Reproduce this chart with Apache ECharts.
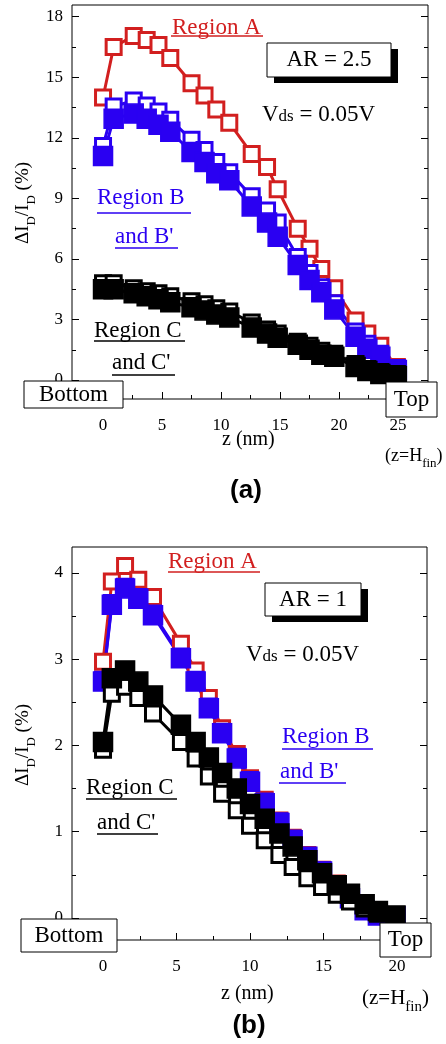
<!DOCTYPE html>
<html><head><meta charset="utf-8">
<script src="https://cdn.jsdelivr.net/npm/echarts@6/dist/echarts.min.js"></script>
<style>html,body{margin:0;padding:0;background:#fff}#c{width:446px;height:1044px}</style>
</head><body><div id="c"></div>
<script>
// ---------- Panel (a): AR = 2.5 ----------
const zA = [0, 0.9, 2.6, 3.7, 4.7, 5.7, 7.5, 8.6, 9.6, 10.7, 12.6, 13.9, 14.8, 16.5, 17.5, 18.5, 19.6, 21.4, 22.4, 23.5, 24.9];
const a_regionA  = [14.0, 16.5, 17.05, 16.85, 16.6, 15.95, 14.7, 14.1, 13.4, 12.75, 11.2, 10.55, 9.45, 7.5, 6.5, 5.5, 4.55, 2.95, 2.3, 1.7, 0.65];
const a_regionB  = [11.6, 13.55, 13.85, 13.6, 13.3, 12.9, 11.9, 11.4, 10.8, 10.3, 9.1, 8.4, 7.8, 6.1, 5.3, 4.6, 3.8, 2.4, 1.8, 1.3, 0.6];
const a_regionBp = [11.1, 12.95, 13.2, 12.95, 12.65, 12.3, 11.3, 10.8, 10.25, 9.9, 8.6, 7.8, 7.1, 5.7, 4.95, 4.35, 3.5, 2.15, 1.55, 1.15, 0.5];
const a_regionC  = [4.8, 4.8, 4.55, 4.4, 4.3, 4.15, 3.9, 3.75, 3.55, 3.4, 2.85, 2.5, 2.3, 1.9, 1.7, 1.45, 1.3, 0.8, 0.55, 0.4, 0.3];
const a_regionCp = [4.5, 4.5, 4.3, 4.15, 4.0, 3.85, 3.6, 3.45, 3.25, 3.1, 2.6, 2.3, 2.1, 1.75, 1.5, 1.25, 1.15, 0.65, 0.45, 0.3, 0.2];
const a_xTicks = [0, 5, 10, 15, 20, 25];
const a_xMinor = [2.5, 7.5, 12.5, 17.5, 22.5];
const a_yTicks = [0, 3, 6, 9, 12, 15, 18];
const a_yMinor = [1.5, 4.5, 7.5, 10.5, 13.5, 16.5];

// ---------- Panel (b): AR = 1 ----------
const zB = [0, 0.6, 1.5, 2.4, 3.4, 5.3, 6.3, 7.2, 8.1, 9.1, 10.0, 11.0, 12.0, 12.9, 13.9, 14.9, 15.9, 16.8, 17.8, 18.7, 19.9];
const b_regionA  = [2.97, 3.9, 4.08, 3.92, 3.72, 3.18, 2.87, 2.55, 2.2, 1.9, 1.62, 1.37, 1.13, 0.93, 0.73, 0.56, 0.4, 0.25, 0.11, 0.05, 0.02];
const b_regionB  = [2.76, 3.65, 3.84, 3.72, 3.53, 3.03, 2.76, 2.45, 2.16, 1.87, 1.6, 1.35, 1.12, 0.92, 0.72, 0.55, 0.39, 0.24, 0.1, 0.04, 0.02];
const b_regionBp = [2.74, 3.63, 3.82, 3.7, 3.51, 3.01, 2.74, 2.43, 2.14, 1.85, 1.58, 1.33, 1.1, 0.9, 0.71, 0.54, 0.38, 0.23, 0.09, 0.03, 0.02];
const b_regionC  = [1.95, 2.6, 2.68, 2.55, 2.37, 2.04, 1.85, 1.64, 1.44, 1.25, 1.07, 0.9, 0.73, 0.59, 0.46, 0.36, 0.27, 0.19, 0.11, 0.05, 0.02];
const b_regionCp = [2.04, 2.78, 2.87, 2.74, 2.58, 2.24, 2.04, 1.86, 1.68, 1.5, 1.32, 1.15, 0.98, 0.83, 0.67, 0.52, 0.38, 0.28, 0.16, 0.08, 0.03];
const b_xTicks = [0, 5, 10, 15, 20];
const b_xMinor = [2.5, 7.5, 12.5, 17.5];
const b_yTicks = [0, 1, 2, 3, 4];
const b_yMinor = [0.5, 1.5, 2.5, 3.5];

const RED = '#d21f1f', BLUE = '#2a00f2', BLACK = '#000';
const SERIF = 'Liberation Serif';

const chart = echarts.init(document.getElementById('c'), null, {renderer: 'canvas'});

function xAxis(grid, min, max, ticks, showLabel, len) {
  return {type: 'value', gridIndex: grid, min, max, position: 'bottom',
    axisLine: {show: false, onZero: false}, splitLine: {show: false},
    axisTick: {show: true, inside: true, length: len, customValues: ticks, lineStyle: {color: '#000', width: 1}},
    axisLabel: {show: showLabel, customValues: ticks, margin: 18, fontFamily: SERIF, fontSize: 17, color: '#000'}};
}
function yAxis(grid, min, max, ticks, showLabel, len, pos) {
  return {type: 'value', gridIndex: grid, min, max, position: pos,
    axisLine: {show: false, onZero: false}, splitLine: {show: false},
    axisTick: {show: true, inside: true, length: len, customValues: ticks, lineStyle: {color: '#000', width: 1}},
    axisLabel: {show: showLabel, customValues: ticks, margin: 9, fontFamily: SERIF, fontSize: 17, color: '#000'}};
}
function ser(xs, ys, color, filled, xi, yi) {
  return {type: 'line', xAxisIndex: xi, yAxisIndex: yi, data: xs.map((x, i) => [x, ys[i]]),
    symbol: 'rect', symbolSize: filled ? 19 : 15, showAllSymbol: true, animation: false, silent: true,
    lineStyle: {color, width: 3}, emphasis: {disabled: true},
    itemStyle: {color: filled ? color : '#fff', borderColor: color, borderWidth: filled ? 1.5 : 3, opacity: 1}};
}

const aX = [-2.63, 27.54], aY = [-0.94, 18.58];
const bX = [-2.11, 22.04], bY = [-0.255, 4.30];

function txt(x, y, text, size, color, extra) {
  return Object.assign({type: 'text', x, y, z: 100, style: {text, fontFamily: SERIF, fontSize: size, fill: color || '#000', align: 'left', verticalAlign: 'middle'}}, extra || {});
}
function uline(x1, x2, y, color) {
  return {type: 'line', z: 100, shape: {x1, y1: y, x2, y2: y}, style: {stroke: color, lineWidth: 1.5}};
}
function box(x, y, w, h, label, size) {
  return [
    {type: 'rect', z: 100, shape: {x, y, width: w, height: h}, style: {fill: '#fff', stroke: '#000', lineWidth: 1}},
    {type: 'text', z: 101, x: x + w / 2, y: y + h / 2, style: {text: label, fontFamily: SERIF, fontSize: size, fill: '#000', align: 'center', verticalAlign: 'middle'}}
  ];
}
function shadowBox(x, y, w, h, label) {
  return [
    {type: 'rect', z: 99, shape: {x: x + 7, y: y + 6, width: w, height: h}, style: {fill: '#000'}},
    ...box(x, y, w, h, label, 23)
  ];
}
function yTitle(x, y) {
  return {type: 'text', x, y, rotation: Math.PI / 2, z: 100, style: {
    text: '{m|ΔI}{s|D}{m|/I}{s|D}{m| (%)}', align: 'center', verticalAlign: 'middle', fill: '#000',
    rich: {m: {fontFamily: SERIF, fontSize: 19, lineHeight: 22, verticalAlign: 'top'},
           s: {fontFamily: SERIF, fontSize: 13, lineHeight: 13, padding: [11, 0, 0, 0], verticalAlign: 'top'}}}};
}
function vds(x, y) {
  return {type: 'text', x, y, z: 100, style: {text: '{v|V}{d|ds}{v| = 0.05V}', align: 'left', verticalAlign: 'middle', fill: '#000',
    rich: {v: {fontFamily: SERIF, fontSize: 23, verticalAlign: 'bottom', lineHeight: 26}, d: {fontFamily: SERIF, fontSize: 17, verticalAlign: 'bottom', lineHeight: 22, padding: [0, 0, 1, 0]}}}};
}
function hfin(x, y, m, s) {
  return {type: 'text', x, y, z: 100, style: {text: '{m|(z=H}{s|fin}{m|)}', align: 'left', verticalAlign: 'middle', fill: '#000',
    rich: {m: {fontFamily: SERIF, fontSize: m, lineHeight: m + 3, verticalAlign: 'top'}, s: {fontFamily: SERIF, fontSize: s, lineHeight: s, padding: [Math.round(m * 0.55), 0, 0, 0], verticalAlign: 'top'}}}};
}

const graphics = [
  // panel a
  yTitle(25, 203),
  txt(172, 28, 'Region A', 23, RED), uline(171, 263, 36, RED),
  ...shadowBox(267, 43, 124, 34, 'AR = 2.5'),
  vds(262, 113),
  txt(97, 198, 'Region B', 23, BLUE), uline(97, 191, 213, BLUE),
  txt(115, 237, "and B'", 23, BLUE), uline(115, 178, 248, BLUE),
  txt(94, 331, 'Region C', 23, BLACK), uline(94, 185, 341, BLACK),
  txt(112, 363, "and C'", 23, BLACK), uline(112, 175, 375, BLACK),
  ...box(24, 381, 99, 27, 'Bottom', 23),
  ...box(386, 382, 51, 35, 'Top', 23),
  txt(222, 440, 'z (nm)', 20, BLACK),
  hfin(385, 458, 18, 13),
  {type: 'text', x: 246, y: 491, z: 100, style: {text: '(a)', fontFamily: 'Liberation Sans', fontWeight: 'bold', fontSize: 26, fill: '#000', align: 'center', verticalAlign: 'middle'}},
  // panel b
  yTitle(25, 745),
  txt(168, 562, 'Region A', 23, RED), uline(168, 260, 572, RED),
  ...shadowBox(265, 583, 96, 33, 'AR = 1'),
  vds(246, 653),
  txt(282, 737, 'Region B', 23, BLUE), uline(282, 373, 749, BLUE),
  txt(280, 772, "and B'", 23, BLUE), uline(279, 346, 783, BLUE),
  txt(86, 788, 'Region C', 23, BLACK), uline(86, 177, 799, BLACK),
  txt(97, 823, "and C'", 23, BLACK), uline(97, 158, 834, BLACK),
  ...box(21, 919, 96, 33, 'Bottom', 23),
  ...box(380, 923, 51, 34, 'Top', 23),
  txt(221, 994, 'z (nm)', 20, BLACK),
  hfin(362, 1000, 21, 15),
  {type: 'text', x: 249, y: 1026, z: 100, style: {text: '(b)', fontFamily: 'Liberation Sans', fontWeight: 'bold', fontSize: 26, fill: '#000', align: 'center', verticalAlign: 'middle'}}
];

chart.setOption({
  animation: false,
  backgroundColor: '#fff',
  grid: [
    {left: 72, top: 5, width: 356, height: 394, show: true, borderColor: '#000', borderWidth: 1, backgroundColor: 'transparent'},
    {left: 72, top: 547, width: 355, height: 393, show: true, borderColor: '#000', borderWidth: 1, backgroundColor: 'transparent'}
  ],
  xAxis: [
    xAxis(0, aX[0], aX[1], a_xTicks, true, 7),
    xAxis(0, aX[0], aX[1], a_xMinor, false, 4),
    xAxis(1, bX[0], bX[1], b_xTicks, true, 7),
    xAxis(1, bX[0], bX[1], b_xMinor, false, 4)
  ],
  yAxis: [
    yAxis(0, aY[0], aY[1], a_yTicks, true, 7, 'left'),
    yAxis(0, aY[0], aY[1], a_yMinor, false, 4, 'left'),
    yAxis(0, aY[0], aY[1], a_yTicks, false, 7, 'right'),
    yAxis(0, aY[0], aY[1], a_yMinor, false, 4, 'right'),
    yAxis(1, bY[0], bY[1], b_yTicks, true, 7, 'left'),
    yAxis(1, bY[0], bY[1], b_yMinor, false, 4, 'left'),
    yAxis(1, bY[0], bY[1], b_yTicks, false, 7, 'right'),
    yAxis(1, bY[0], bY[1], b_yMinor, false, 4, 'right')
  ],
  series: [
    ser(zA, a_regionA, RED, false, 0, 0),
    ser(zA, a_regionB, BLUE, false, 0, 0),
    ser(zA, a_regionBp, BLUE, true, 0, 0),
    ser(zA, a_regionC, BLACK, false, 0, 0),
    ser(zA, a_regionCp, BLACK, true, 0, 0),
    ser(zB, b_regionA, RED, false, 2, 4),
    ser(zB, b_regionB, BLUE, false, 2, 4),
    ser(zB, b_regionBp, BLUE, true, 2, 4),
    ser(zB, b_regionC, BLACK, false, 2, 4),
    ser(zB, b_regionCp, BLACK, true, 2, 4)
  ],
  graphic: graphics
});
</script>
</body></html>
